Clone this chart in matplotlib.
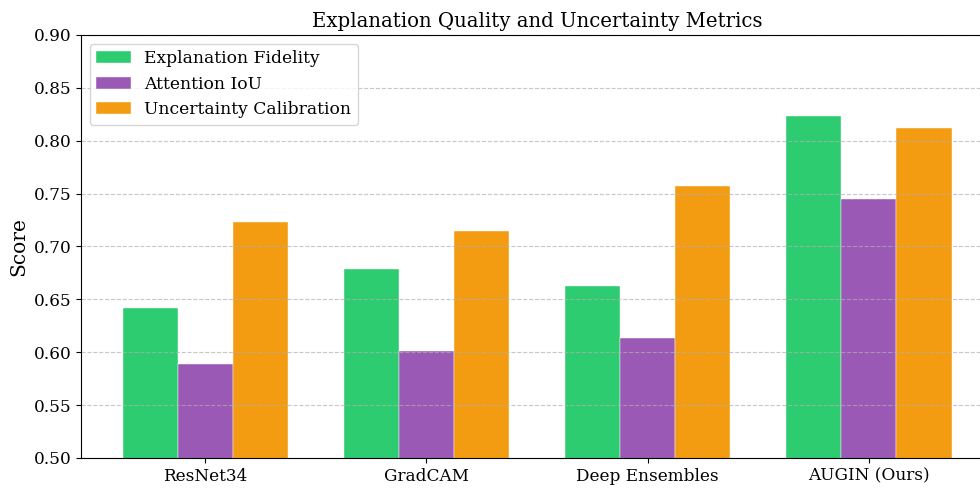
import numpy as np
import matplotlib.pyplot as plt

# =====================================================
# DATA
# =====================================================
methods = ["ResNet34", "GradCAM", "Deep Ensembles", "AUGIN (Ours)"]
fidelity = [0.642, 0.679, 0.663, 0.823]
attention_iou = [0.589, 0.601, 0.613, 0.745]
calibration = [0.723, 0.715, 0.757, 0.812]

# =====================================================
# PLOT
# =====================================================
plt.rcParams["font.family"] = "DejaVu Serif"

fig = plt.figure(figsize=(9.8, 4.88), dpi=100)
ax = fig.add_axes([0.0827, 0.0615, 0.9306, 0.8668])

x = np.arange(len(methods))
width = 0.25

ax.bar(x - width, fidelity, width, color="#2ecc71",
       edgecolor="white", linewidth=0.3, label="Explanation Fidelity")
ax.bar(x, attention_iou, width, color="#9b59b6",
       edgecolor="white", linewidth=0.3, label="Attention IoU")
ax.bar(x + width, calibration, width, color="#f39c12",
       edgecolor="white", linewidth=0.3, label="Uncertainty Calibration")

# =====================================================
# LABELS
# =====================================================
ax.set_ylim(0.5, 0.9)
ax.set_xticks(x)
ax.set_xticklabels(methods, fontsize=12.2)
ax.tick_params(axis="y", labelsize=12.2)
ax.set_ylabel("Score", fontsize=14.5)
ax.set_title("Explanation Quality and Uncertainty Metrics", fontsize=14.2)
ax.grid(axis="y", linestyle="--", alpha=0.7)
ax.legend(loc="upper left", fontsize=12.3)

fig.savefig("out.png", dpi=100)
